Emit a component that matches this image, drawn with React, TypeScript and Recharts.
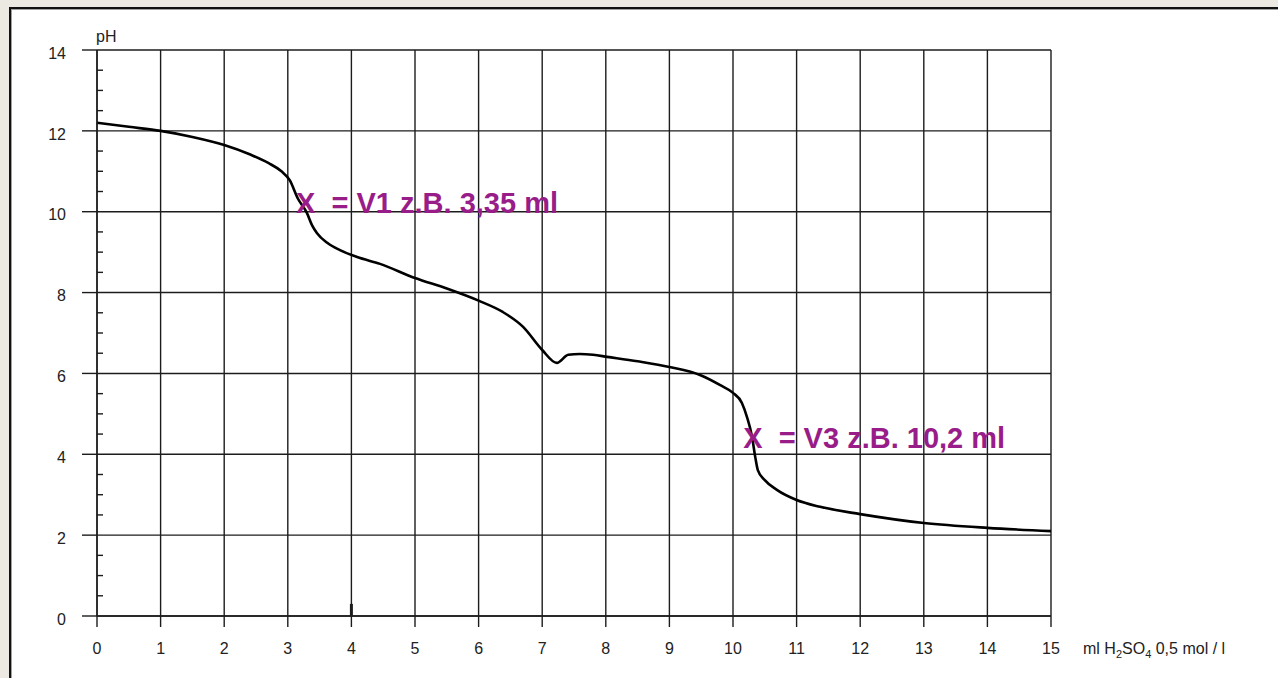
import React from 'react'
import { LineChart, Line, XAxis, YAxis, ReferenceLine, ReferenceDot } from 'recharts'

// titration curve, ml H2SO4 added vs pH
const volume = [0, 0.5, 1, 1.5, 2, 2.4, 2.7, 2.9, 3.03, 3.16, 3.3, 3.38, 3.46, 3.62, 3.82, 4.09, 4.45, 5, 5.5, 6, 6.38, 6.7, 7, 7.23, 7.41, 7.59, 7.8, 8.02, 8.5, 9, 9.5, 9.8, 10, 10.14, 10.22, 10.3, 10.35, 10.39, 10.5, 10.69, 11, 11.37, 12, 13, 14, 15]
const ph = [12.2, 12.1, 12.0, 11.85, 11.65, 11.42, 11.2, 11.0, 10.78, 10.32, 9.97, 9.67, 9.47, 9.23, 9.05, 8.88, 8.71, 8.36, 8.1, 7.8, 7.52, 7.15, 6.58, 6.26, 6.46, 6.48, 6.46, 6.41, 6.3, 6.16, 5.95, 5.71, 5.52, 5.27, 4.92, 4.43, 3.93, 3.61, 3.36, 3.12, 2.87, 2.7, 2.52, 2.3, 2.18, 2.1]

const xTicks = [0, 1, 2, 3, 4, 5, 6, 7, 8, 9, 10, 11, 12, 13, 14, 15]
const yMajor = [0, 2, 4, 6, 8, 10, 12, 14]
const yTicks = [0, 0.5, 1, 1.5, 2, 2.5, 3, 3.5, 4, 4.5, 5, 5.5, 6, 6.5, 7, 7.5, 8, 8.5, 9, 9.5, 10, 10.5, 11, 11.5, 12, 12.5, 13, 13.5, 14]

// equivalence point notes (anchor = left end / baseline of the text)
const notes = [
  { x: 3.13, y: 9.97, text: 'X  = V1 z.B. 3,35 ml' },
  { x: 10.16, y: 4.15, text: 'X  = V3 z.B. 10,2 ml' },
]

const data = volume.map((v, i) => ({ v, ph: ph[i] }))

const ink = '#1c1c1c'
const font = '"Liberation Sans", Arial, sans-serif'

function PhTick(props: any) {
  const { x, y, payload } = props
  if (payload.value % 2 === 0) {
    return (
      <g>
        <line x1={x - 15} x2={x} y1={y} y2={y} stroke={ink} strokeWidth={1.4} />
        <text x={x - 31} y={y + 3} dy="0.355em" textAnchor="end" fontSize={16} fill="#222" fontFamily={font}>
          {payload.value}
        </text>
      </g>
    )
  }
  return <line x1={x} x2={x + 6} y1={y} y2={y} stroke={ink} strokeWidth={1.4} />
}

function NoteText(props: any) {
  const { viewBox, text } = props
  return (
    <text x={viewBox.x} y={viewBox.y} fontSize={29} fontWeight="bold" fill="#991d89" fontFamily={font} style={{ whiteSpace: 'pre' }}>
      {text}
    </text>
  )
}

export default function App() {
  return (
    <div style={{ position: 'absolute', left: 0, top: 0, width: 1278, height: 678, background: '#ece9e2', overflow: 'hidden' }}>
      <div
        style={{
          position: 'absolute', left: 9, top: 7, width: 1300, height: 700, background: '#fff',
          borderTop: '2px solid #111', borderLeft: '2px solid #111', boxShadow: 'inset 1px 1px 0 #a0a0a0',
        }}
      />
      <div style={{ position: 'absolute', left: 96, top: 28, fontSize: 16, fontFamily: font, color: '#222' }}>pH</div>
      <div style={{ position: 'absolute', left: 1083, top: 640, fontSize: 16, fontFamily: font, color: '#222', whiteSpace: 'nowrap' }}>
        ml H<sub style={{ fontSize: 11 }}>2</sub>SO<sub style={{ fontSize: 11 }}>4</sub> 0,5 mol / l
      </div>
      <div style={{ position: 'absolute', left: 0, top: 0 }}>
        <LineChart width={1278} height={678} data={data} margin={{ top: 50, right: 227, bottom: 22, left: 37 }}>
          <XAxis
            dataKey="v"
            type="number"
            domain={[0, 15]}
            ticks={xTicks}
            interval={0}
            height={40}
            tickSize={11}
            tickMargin={16}
            axisLine={{ stroke: ink, strokeWidth: 1.4 }}
            tickLine={{ stroke: ink, strokeWidth: 1.4 }}
            tick={{ fill: '#222', fontSize: 16, fontFamily: font }}
          />
          <YAxis
            type="number"
            domain={[0, 14]}
            ticks={yTicks}
            interval={0}
            width={60}
            tickSize={0}
            tickMargin={0}
            axisLine={{ stroke: ink, strokeWidth: 1.4 }}
            tickLine={false}
            tick={<PhTick />}
          />
          {xTicks.map((v) => (
            <ReferenceLine key={'x' + v} x={v} stroke={ink} strokeWidth={1.4} />
          ))}
          {yMajor.map((v) => (
            <ReferenceLine key={'y' + v} y={v} stroke={ink} strokeWidth={1.4} />
          ))}
          <ReferenceLine segment={[{ x: 4, y: 0 }, { x: 4, y: 0.3 }]} stroke={ink} strokeWidth={3} />
          <Line dataKey="ph" type="monotone" stroke="#000" strokeWidth={2.6} dot={false} isAnimationActive={false} />
          {notes.map((n) => (
            <ReferenceDot key={n.text} x={n.x} y={n.y} r={0} stroke="none" fill="none" label={<NoteText text={n.text} />} />
          ))}
        </LineChart>
      </div>
    </div>
  )
}
